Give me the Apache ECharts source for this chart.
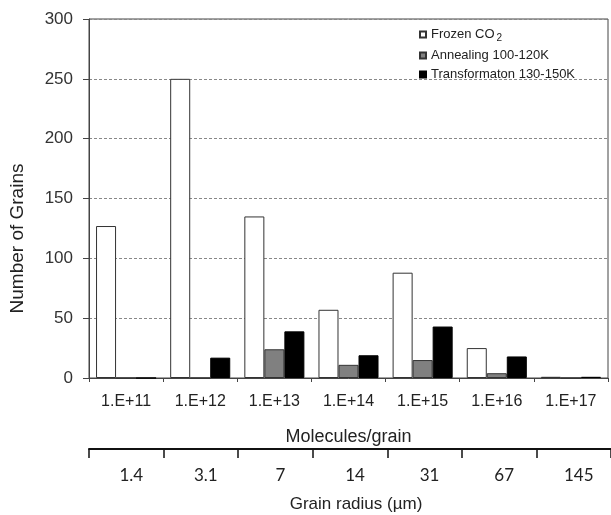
<!DOCTYPE html>
<html>
<head>
<meta charset="utf-8">
<script src="https://cdn.jsdelivr.net/npm/echarts@6/dist/echarts.min.js"></script>
<style>
html,body{margin:0;padding:0;background:#fff;}
#main{width:611px;height:515px;}
</style>
</head>
<body>
<div id="main"></div>
<script>
var categories = ['1.E+11','1.E+12','1.E+13','1.E+14','1.E+15','1.E+16','1.E+17'];
var radiusLabels = ['1.4','3.1','7','14','31','67','145'];
var frozen = [127, 250, 135, 57, 88, 25, 1];
var annealing = [0, 0, 24, 11, 15, 4, 0];
var transformation = [0, 17, 39, 19, 43, 18, 1];
var yTicks = {min: 0, max: 300, interval: 50};
var seriesNames = ['Frozen CO2', 'Annealing 100-120K', 'Transformaton 130-150K'];

var chart = echarts.init(document.getElementById('main'));
var font = 'Liberation Sans, Arial, sans-serif';
chart.setOption({
  animation: false,
  backgroundColor: '#fff',
  legend: {
    orient: 'vertical',
    left: 414,
    top: 23,
    itemWidth: 6,
    itemHeight: 6,
    itemGap: 6,
    icon: 'rect',
    textStyle: {
      fontFamily: font,
      fontSize: 13,
      color: '#222',
      rich: {
        sub: {fontFamily: font, fontSize: 10, color: '#222', padding: [7, 0, 0, 2]}
      }
    },
    formatter: function (n) {
      return n === 'Frozen CO2' ? 'Frozen CO{sub|2}' : n;
    },
    data: seriesNames
  },
  grid: [
    {left: 89, right: 3, top: 19, bottom: 137, show: true, borderColor: '#444', borderWidth: 1, backgroundColor: 'transparent'},
    {left: 89, width: 525, top: 448, height: 1}
  ],
  xAxis: [
    {
      type: 'category',
      gridIndex: 0,
      data: categories,
      name: 'Molecules/grain',
      nameLocation: 'middle',
      nameGap: 50,
      nameTextStyle: {fontFamily: font, fontSize: 18, color: '#222'},
      axisLine: {lineStyle: {color: '#444', width: 1}},
      axisTick: {show: true, length: 4, lineStyle: {color: '#444'}},
      axisLabel: {fontFamily: font, fontSize: 16, color: '#222', margin: 16}
    },
    {
      type: 'category',
      gridIndex: 1,
      position: 'bottom',
      data: radiusLabels,
      name: 'Grain radius (µm)',
      nameLocation: 'middle',
      nameGap: 47,
      nameTextStyle: {fontFamily: font, fontSize: 17, color: '#222', padding: [0, 0, 0, 12]},
      axisLine: {lineStyle: {color: '#111', width: 2}},
      axisTick: {show: true, length: 9, lineStyle: {color: '#111', width: 1.5}},
      axisLabel: {fontFamily: 'Lato, Open Sans, sans-serif', fontSize: 17, color: '#222', margin: 18, padding: [0, 0, 0, 10]}
    }
  ],
  yAxis: [
    {
      type: 'value',
      gridIndex: 0,
      min: yTicks.min,
      max: yTicks.max,
      interval: yTicks.interval,
      name: 'Number of Grains',
      nameLocation: 'middle',
      nameGap: 62,
      nameTextStyle: {fontFamily: font, fontSize: 19, color: '#222', padding: [0, 80, 0, 0]},
      axisLine: {show: true, lineStyle: {color: '#444', width: 1}},
      axisTick: {show: true, length: 6, lineStyle: {color: '#444'}},
      axisLabel: {fontFamily: font, fontSize: 17, color: '#333', margin: 16},
      splitLine: {show: true, lineStyle: {color: '#888', type: [3, 2], width: 1}}
    },
    {
      type: 'value',
      gridIndex: 1,
      show: false
    }
  ],
  series: [
    {
      name: seriesNames[0], type: 'bar', data: frozen,
      barGap: '0%', barCategoryGap: '19%',
      itemStyle: {color: '#fff', borderColor: '#333', borderWidth: 1}
    },
    {
      name: seriesNames[1], type: 'bar', data: annealing,
      barGap: '0%', barCategoryGap: '19%',
      itemStyle: {color: '#808080', borderColor: '#333', borderWidth: 1}
    },
    {
      name: seriesNames[2], type: 'bar', data: transformation,
      barGap: '0%', barCategoryGap: '19%',
      itemStyle: {color: '#000', borderColor: '#000', borderWidth: 1}
    }
  ]
});
</script>
</body>
</html>
